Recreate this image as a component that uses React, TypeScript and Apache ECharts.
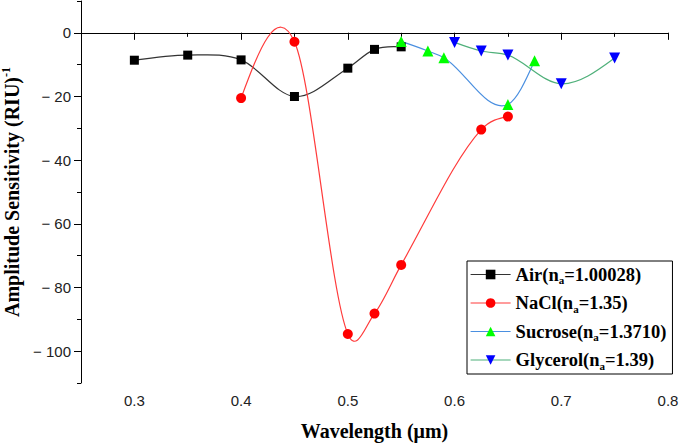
import React, { useEffect, useRef } from "react";
import * as echarts from "echarts";

const airX = [0.3, 0.35, 0.4, 0.45, 0.5, 0.525, 0.55];
const airY = [-8.6, -7.0, -8.5, -20.0, -11.1, -5.2, -4.4];
const naclX = [0.4, 0.45, 0.5, 0.525, 0.55, 0.625, 0.65];
const naclY = [-20.5, -2.8, -94.6, -88.2, -72.9, -30.4, -26.3];
const sucroseX = [0.55, 0.575, 0.59, 0.65, 0.675];
const sucroseY = [-2.7, -5.7, -7.8, -22.5, -8.8];
const glycerolX = [0.6, 0.625, 0.65, 0.7, 0.75];
const glycerolY = [-3.0, -5.7, -7.0, -16.0, -7.9];

const seriesNames = ["Air", "NaCl", "Sucrose", "Glycerol"];
const legendLabels = [
  "Air(n{sub|a}=1.00028)",
  "NaCl(n{sub|a}=1.35)",
  "Sucrose(n{sub|a}=1.3710)",
  "Glycerol(n{sub|a}=1.39)",
];
const xMajorTicks = [0.3, 0.4, 0.5, 0.6, 0.7, 0.8];
const yMajorTicks = [-100, -80, -60, -40, -20, 0];

const zip = (xs: number[], ys: number[]) => xs.map((x, i) => [x, ys[i]]);

// Hermite tangents (pixel space): average of adjacent secants, quadratic end condition
function tangents(px: number[], py: number[]) {
  const n = px.length;
  const sec: number[] = [];
  for (let i = 0; i < n - 1; i++) sec.push((py[i + 1] - py[i]) / (px[i + 1] - px[i]));
  const m = new Array(n).fill(0);
  for (let i = 1; i < n - 1; i++) m[i] = (sec[i - 1] + sec[i]) / 2;
  if (n > 2) {
    m[0] = (3 * sec[0] - m[1]) / 2;
    m[n - 1] = (3 * sec[n - 2] - m[n - 2]) / 2;
  } else {
    m[0] = sec[0];
    m[n - 1] = sec[0];
  }
  return m;
}

export default function App() {
  const ref = useRef<HTMLDivElement>(null);
  useEffect(() => {
    if (!ref.current) return;
    const chart = echarts.init(ref.current, null, { renderer: "svg" });
    const serif = "Liberation Serif";
    const sans = "Liberation Sans";
    const lineColors = ["#333333", "#ff3b3b", "#4a8fe0", "#4fb07a"];
    const curve = (i: number, xs: number[], ys: number[]) => ({
      name: seriesNames[i] + " curve",
      type: "custom",
      coordinateSystem: "cartesian2d",
      data: zip(xs, ys),
      encode: { x: 0, y: 1 },
      silent: true,
      z: 1,
      renderItem: (params: any, api: any) => {
        const k = params.dataIndex;
        if (k >= xs.length - 1) return null;
        const pts = xs.map((x, j) => api.coord([x, ys[j]]));
        const px = pts.map((p: number[]) => p[0]);
        const py = pts.map((p: number[]) => p[1]);
        const m = tangents(px, py);
        const hk = px[k + 1] - px[k];
        return {
          type: "bezierCurve",
          shape: {
            x1: px[k],
            y1: py[k],
            x2: px[k + 1],
            y2: py[k + 1],
            cpx1: px[k] + hk / 3,
            cpy1: py[k] + (m[k] * hk) / 3,
            cpx2: px[k + 1] - hk / 3,
            cpy2: py[k + 1] - (m[k + 1] * hk) / 3,
          },
          style: { stroke: lineColors[i], lineWidth: 1.2, fill: "none" },
        };
      },
    });
    const mk = (
      i: number,
      xs: number[],
      ys: number[],
      markColor: string,
      symbol: string,
      size: number,
      rotate = 0
    ) => ({
      name: seriesNames[i],
      type: "line",
      data: zip(xs, ys),
      symbol,
      symbolSize: size,
      symbolRotate: rotate,
      lineStyle: { color: lineColors[i], width: 1.2, opacity: 0 },
      itemStyle: { color: markColor },
      z: 3 + i,
    });
    const labelFmt = (v: number) =>
      Math.abs(v * 10 - Math.round(v * 10)) < 1e-6 ? v.toFixed(1) : "";
    chart.setOption({
      animation: false,
      backgroundColor: "#fff",
      grid: { left: 81, right: 17, top: 1, bottom: 64, containLabel: false, outerBoundsMode: "none" },
      xAxis: [
        {
          type: "value",
          min: 0.25,
          max: 0.8,
          interval: 0.05,
          name: "Wavelength (μm)",
          nameLocation: "middle",
          nameGap: 38,
          nameTextStyle: { fontFamily: serif, fontWeight: "bold", fontSize: 20, color: "#000" },
          axisLine: { lineStyle: { color: "#000", width: 1 } },
          axisTick: { length: 4, lineStyle: { color: "#000" } },
          axisLabel: { formatter: labelFmt, fontFamily: sans, fontSize: 15, color: "#222", margin: 10 },
          splitLine: { show: false },
        },
        {
          type: "value",
          min: 0.25,
          max: 0.8,
          position: "bottom",
          axisLine: { show: false },
          axisTick: { show: true, length: 7, customValues: xMajorTicks, lineStyle: { color: "#000" } },
          axisLabel: { show: false },
          splitLine: { show: false },
        },
      ],
      yAxis: [
        {
          type: "value",
          min: -110,
          max: 10,
          interval: 10,
          name: "Amplitude Sensitivity (RIU){sup|-1}",
          nameLocation: "middle",
          nameRotate: 90,
          nameGap: 55,
          nameTextStyle: {
            fontFamily: serif,
            fontWeight: "bold",
            fontSize: 20,
            color: "#000",
            rich: {
              sup: { fontFamily: serif, fontWeight: "bold", fontSize: 12, verticalAlign: "top", padding: [0, 0, 12, 0] },
            },
          },
          axisLine: { lineStyle: { color: "#000", width: 1 } },
          axisTick: { length: 4, lineStyle: { color: "#000" } },
          axisLabel: {
            formatter: (v: number) => (Math.round(v) % 20 === 0 ? String(Math.round(v)).replace("-", "− ") : ""),
            fontFamily: sans,
            fontSize: 15,
            color: "#222",
            margin: 10,
          },
          splitLine: { show: false },
        },
        {
          type: "value",
          min: -110,
          max: 10,
          position: "left",
          axisLine: { show: false },
          axisTick: { show: true, length: 7, customValues: yMajorTicks, lineStyle: { color: "#000" } },
          axisLabel: { show: false },
          splitLine: { show: false },
        },
      ],
      legend: {
        orient: "vertical",
        left: 467,
        top: 261,
        backgroundColor: "#fff",
        borderColor: "#000",
        borderWidth: 1,
        borderRadius: 0,
        padding: [4, 6, 3, 3],
        itemWidth: 40,
        itemHeight: 12,
        itemGap: 8,
        data: seriesNames.map((n, i) => ({
          name: n,
          lineStyle: { color: lineColors[i], width: 1.2, opacity: 1 },
        })),
        formatter: (name: string) => legendLabels[seriesNames.indexOf(name)],
        textStyle: {
          fontFamily: serif,
          fontWeight: "bold",
          fontSize: 18.5,
          color: "#000",
          rich: {
            sub: { fontFamily: serif, fontWeight: "bold", fontSize: 11, verticalAlign: "bottom", padding: [11, 0, 0, 0] },
          },
        },
      },
      series: [
        curve(0, airX, airY),
        curve(1, naclX, naclY),
        curve(2, sucroseX, sucroseY),
        curve(3, glycerolX, glycerolY),
        mk(0, airX, airY, "#000000", "rect", 9),
        mk(1, naclX, naclY, "#ff0000", "circle", 10),
        mk(2, sucroseX, sucroseY, "#00ff00", "triangle", 11),
        mk(3, glycerolX, glycerolY, "#0000ff", "triangle", 11, 180),
      ],
    });
    return () => chart.dispose();
  }, []);
  return <div ref={ref} style={{ width: 685, height: 447, position: "absolute", left: 0, top: 0 }} />;
}
